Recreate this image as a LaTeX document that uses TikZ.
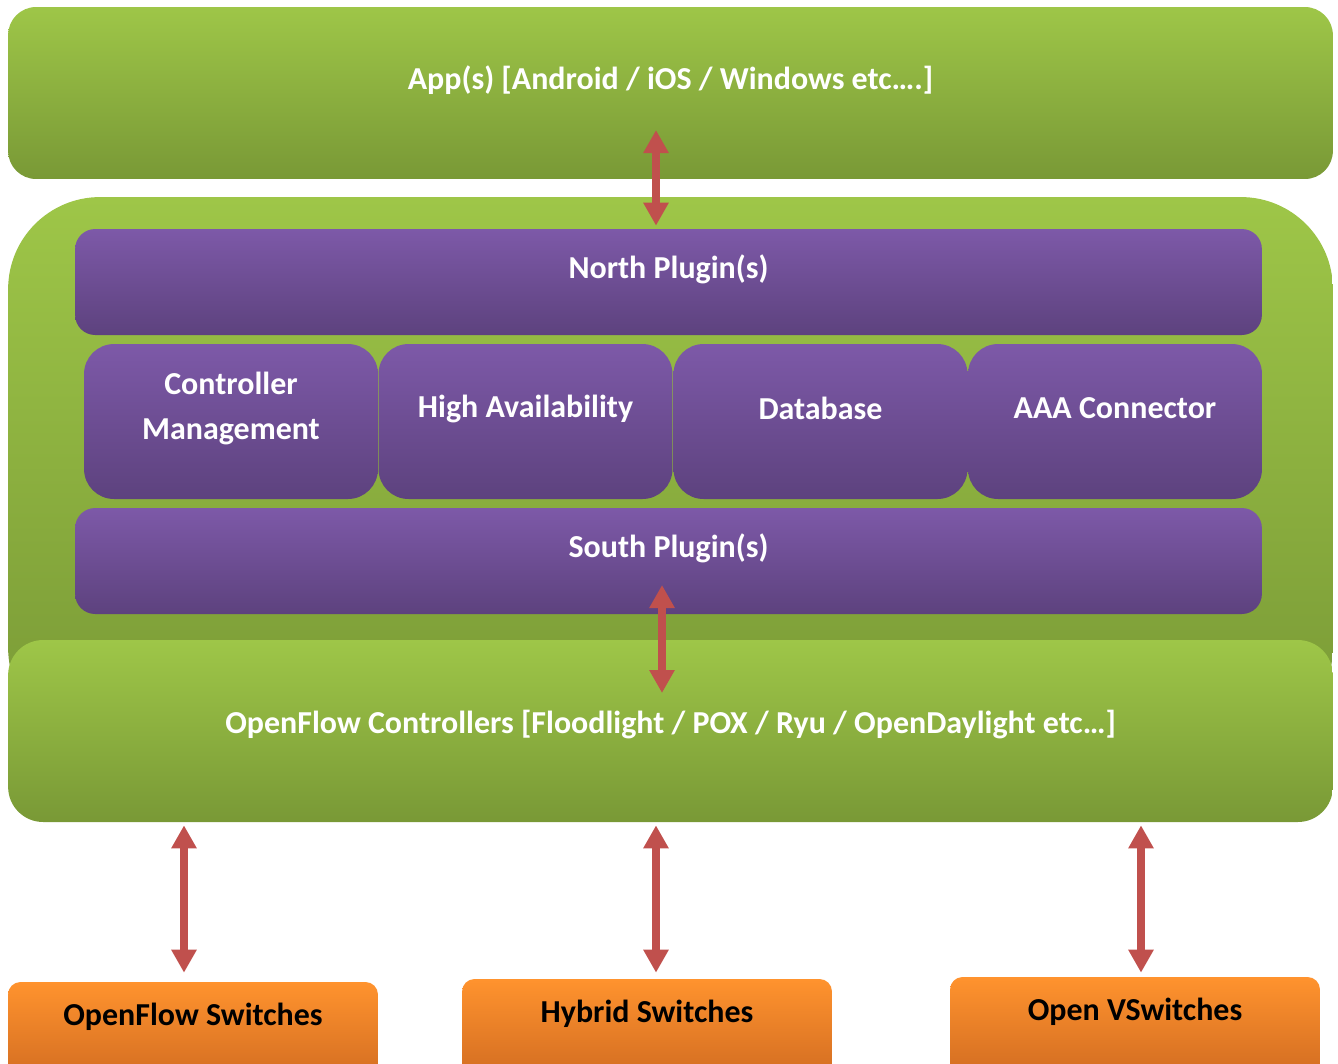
\documentclass[tikz,border=0pt]{standalone}
\usepackage{fontspec}
\setmainfont{Carlito}
\usetikzlibrary{arrows.meta}

\definecolor{grnT}{RGB}{158,198,72}
\definecolor{grnB}{RGB}{121,153,54}
\definecolor{purT}{RGB}{125,89,168}
\definecolor{purB}{RGB}{93,66,126}
\definecolor{orgT}{RGB}{255,147,46}
\definecolor{orgB}{RGB}{205,104,32}
\definecolor{lnk}{RGB}{192,80,77}

\begin{document}
\begin{tikzpicture}[
                x = 0.02cm, y = -0.02cm, % pixel grid of the picture
                font = \fontsize{18.2}{25.6}\selectfont\bfseries,
                greenbox/.style = {rounded corners = 0.56cm, top color = grnT,
                    bottom color = grnB, minimum width = 26.5cm},
                purplebox/.style = {rounded corners = 0.4cm, top color = purT,
                    bottom color = purB},
                rowbox/.style = {purplebox, rounded corners = 0.6cm,
                    minimum width = 5.88cm, minimum height = 3.1cm},
                orangebox/.style = {rounded corners = 0.25cm, top color = orgT,
                    bottom color = orgB, minimum width = 7.4cm, minimum height = 2.2cm},
                boxtext/.style = {text = white, align = center, yshift = 0.26cm},
                switchtext/.style = {text = black, yshift = 0.4cm},
                link/.style = {{Triangle[width=0.48cm,length=0.46cm]}-{Triangle[width=0.48cm,length=0.46cm]},
                    line width = 0.16cm, draw = lnk} % double arrow
            ]

            \clip (0,0) rectangle (1338,1063);

            % controller layers
            \node (ctrlbg) [greenbox, rounded corners = 1.84cm, minimum height = 10.86cm]
                at (670.5,468.5) {};
            \node (ctrl) [greenbox, rounded corners = 0.7cm, minimum height = 3.64cm,
                label = {[boxtext, yshift = -0.14cm]center:{OpenFlow Controllers [Floodlight / POX / Ryu / OpenDaylight etc…]}}]
                at (670.5,731) {};
            \node (app) [greenbox, minimum height = 3.44cm,
                label = {[boxtext]center:{App(s) [Android / iOS / Windows etc….]}}]
                at (670.5,93) {};

            \node (north) [purplebox, minimum width = 23.74cm, minimum height = 2.12cm,
                label = {[boxtext]center:North Plugin(s)}] at (668.5,282) {};
            \node (mgmt) [rowbox, label = {[boxtext]center:Controller\\Management}] at (231,421.5) {};
            \node (ha) [rowbox, label = {[boxtext]center:High Availability}] at (525.5,421.5) {};
            \node (db) [rowbox, label = {[boxtext]center:Database}] at (820.5,421.5) {};
            \node (aaa) [rowbox, label = {[boxtext]center:AAA Connector}] at (1115,421.5) {};
            \node (south) [purplebox, minimum width = 23.74cm, minimum height = 2.12cm,
                label = {[boxtext]center:South Plugin(s)}] at (668.5,561) {};

            % switches
            \node (ofsw) [orangebox, label = {[switchtext]center:OpenFlow Switches}] at (193,1037) {};
            \node (hybsw) [orangebox, label = {[switchtext]center:Hybrid Switches}] at (647,1034) {};
            \node (ovsw) [orangebox, label = {[switchtext]center:Open VSwitches}] at (1135,1032) {};

            \coordinate (appport) at (656,130);
            \coordinate (sbport) at (662,585); \coordinate (ctport) at (662,693);
            \coordinate (p1) at (184,0); \coordinate (p2) at (656,0);
            \coordinate (p3) at (1141,0);

            \draw[link, shorten > = 0.06cm] (appport) -- (appport |- north.north);
            \draw[link] (sbport) -- (ctport);
            \draw[link, shorten < = 0.06cm, shorten > = 0.18cm] (ctrl.south -| p1) -- (ofsw.north -| p1);
            \draw[link, shorten < = 0.06cm, shorten > = 0.12cm] (ctrl.south -| p2) -- (hybsw.north -| p2);
            \draw[link, shorten < = 0.06cm, shorten > = 0.08cm] (ctrl.south -| p3) -- (ovsw.north -| p3);

        \end{tikzpicture}
\end{document}
